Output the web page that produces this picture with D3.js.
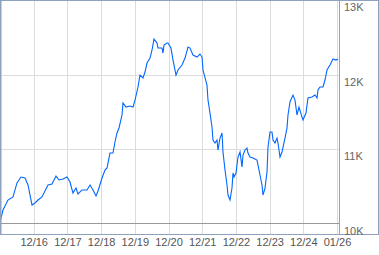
<!DOCTYPE html>
<html>
<head>
<meta charset="utf-8">
<script src="https://cdn.jsdelivr.net/npm/d3@7"></script>
<style>
  html, body { margin: 0; padding: 0; background: #fff; }
  svg { display: block; font-family: "Liberation Sans", Arial, sans-serif; }
</style>
</head>
<body>
<div id="chart"></div>
<script>
// day offsets (from 12/15 00:00) and index level
const days = [0, 0.089, 0.237, 0.386, 0.504, 0.623, 0.742, 0.831, 0.950, 1.039, 1.128, 1.246,
  1.424, 1.543, 1.662, 1.751, 1.869, 1.988, 2.077, 2.166, 2.255, 2.315, 2.433, 2.582, 2.671,
  2.760, 2.849, 2.908, 3.027, 3.116, 3.175, 3.264, 3.353, 3.412, 3.472, 3.531, 3.620, 3.650,
  3.739, 3.858, 3.947, 4.006, 4.095, 4.154, 4.243, 4.303, 4.362, 4.451, 4.510, 4.570, 4.659,
  4.688, 4.807, 4.837, 4.866, 4.955, 4.985, 5.074, 5.134, 5.223, 5.282, 5.401, 5.490, 5.579,
  5.638, 5.727, 5.846, 5.935, 5.994, 6.024, 6.142, 6.172, 6.231, 6.291, 6.320, 6.380, 6.439,
  6.469, 6.528, 6.588, 6.617, 6.677, 6.736, 6.766, 6.825, 6.884, 6.914, 6.944, 7.003, 7.062,
  7.122, 7.181, 7.211, 7.270, 7.329, 7.359, 7.418, 7.507, 7.626, 7.656, 7.715, 7.774, 7.804,
  7.864, 7.923, 7.953, 8.012, 8.071, 8.101, 8.160, 8.220, 8.249, 8.309, 8.368, 8.457, 8.516,
  8.546, 8.605, 8.694, 8.754, 8.813, 8.872, 8.961, 8.991, 9.080, 9.139, 9.258, 9.347, 9.407,
  9.436, 9.496, 9.585, 9.644, 9.703, 9.792, 9.881, 9.970, 10.030];
const values = [10020, 10181, 10315, 10356, 10544, 10624, 10611, 10517, 10248, 10275, 10315, 10356,
  10517, 10530, 10637, 10584, 10597, 10624, 10557, 10409, 10476, 10396, 10450, 10450, 10517,
  10450, 10369, 10436, 10611, 10718, 10745, 10946, 10946, 11094, 11215, 11282, 11456, 11617,
  11563, 11577, 11563, 11657, 11832, 11993, 11953, 12033, 12154, 12221, 12328, 12476, 12422,
  12355, 12355, 12288, 12395, 12422, 12422, 12355, 12194, 11993, 12060, 12127, 12221, 12369,
  12355, 12261, 12234, 12275, 12234, 12060, 11859, 11657, 11483, 11295, 11121, 11080, 11121,
  10986, 11147, 11215, 10960, 10718, 10517, 10382, 10315, 10476, 10678, 10624, 10678, 10892,
  10960, 10758, 10919, 10987, 11013, 10946, 10892, 10879, 10852, 10785, 10651, 10517, 10382,
  10476, 10691, 11027, 11228, 11228, 11121, 11080, 11147, 11080, 10892, 10960, 11147, 11282,
  11456, 11631, 11724, 11657, 11456, 11563, 11429, 11389, 11483, 11684, 11698, 11724, 11684,
  11792, 11832, 11832, 11926, 12060, 12127, 12208, 12194, 12208];
const dateTicks = [1, 2, 3, 4, 5, 6, 7, 8, 9, 10];
const dateLabels = ['12/16', '12/17', '12/18', '12/19', '12/20', '12/21', '12/22', '12/23', '12/24', '01/26'];
const valueTicks = [10000, 11000, 12000, 13000];
const valueLabels = ['10K', '11K', '12K', '13K'];

const W = 379, H = 255;
const plotRight = 339, frameBottom = 234.5;

const svg = d3.select('#chart').append('svg')
  .attr('width', W).attr('height', H);

const x = d3.scaleLinear().domain([0, 10]).range([0, 337]);
const y = d3.scaleLinear().domain([10000, 13000]).range([223.5, 0]);

// vertical grid
const vgrid = svg.append('g')
  .attr('transform', `translate(0,${frameBottom})`)
  .call(d3.axisBottom(x).tickValues(dateTicks).tickSize(-frameBottom).tickFormat(''));
vgrid.select('.domain').remove();
vgrid.selectAll('line')
  .attr('stroke', '#dcdcdc')
  .attr('shape-rendering', 'crispEdges');

// horizontal grid
const hgrid = svg.append('g')
  .call(d3.axisRight(y).tickValues(valueTicks.slice(1, 3)).tickSize(plotRight).tickFormat(''));
hgrid.select('.domain').remove();
hgrid.selectAll('line')
  .attr('stroke', '#dcdcdc')
  .attr('shape-rendering', 'crispEdges');

// base line at 10K
svg.append('line')
  .attr('x1', 0).attr('x2', plotRight)
  .attr('y1', y(10000)).attr('y2', y(10000))
  .attr('stroke', '#999')
  .attr('shape-rendering', 'crispEdges');

// price line
const pts = days.map((d, i) => ({ d, v: values[i] }));
svg.append('path')
  .datum(pts)
  .attr('fill', 'none')
  .attr('stroke', '#0066ff')
  .attr('stroke-width', 1.1)
  .attr('d', d3.line().x(p => x(p.d)).y(p => y(p.v)));

// frame
svg.append('rect')
  .attr('x', 0.5).attr('y', 0.5)
  .attr('width', W - 1.5).attr('height', frameBottom - 0.5)
  .attr('fill', 'none')
  .attr('stroke', '#8ea2c0')
  .attr('shape-rendering', 'crispEdges');
svg.append('line')
  .attr('x1', 0.5).attr('x2', 0.5).attr('y1', 0).attr('y2', frameBottom)
  .attr('stroke', '#8ea2c0').attr('stroke-width', 2);
svg.append('line')
  .attr('x1', plotRight + 0.5).attr('x2', plotRight + 0.5)
  .attr('y1', 0).attr('y2', frameBottom)
  .attr('stroke', '#8ea2c0')
  .attr('shape-rendering', 'crispEdges');

// y labels
svg.append('g').selectAll('text')
  .data(valueTicks)
  .join('text')
  .attr('x', 344)
  .attr('y', v => Math.max(y(v), 0) + 11)
  .attr('font-size', 11)
  .attr('fill', '#666')
  .text((v, i) => valueLabels[i]);

// x labels
const xl = svg.append('g')
  .attr('transform', `translate(0,${frameBottom})`)
  .call(d3.axisBottom(x).tickValues(dateTicks).tickSize(0).tickPadding(4)
    .tickFormat((d, i) => dateLabels[i]));
xl.select('.domain').remove();
xl.selectAll('text')
  .attr('font-size', 11)
  .attr('fill', '#555')
  .attr('font-family', '"Liberation Sans", Arial, sans-serif');
</script>
</body>
</html>
